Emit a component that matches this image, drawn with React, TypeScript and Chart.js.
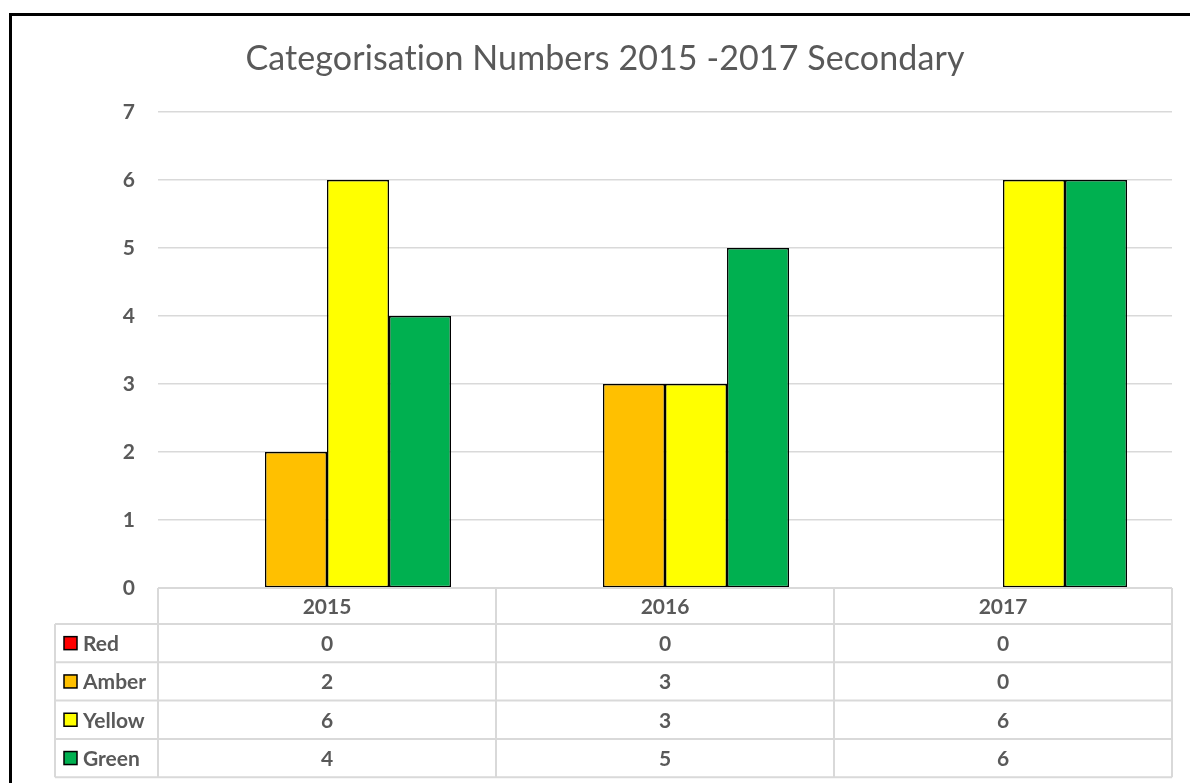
import React, { useEffect, useRef } from "react";
import { Chart, registerables } from "chart.js";

Chart.register(...registerables);

const TITLE = "Categorisation Numbers 2015 -2017 Secondary";
const categories = ["2015", "2016", "2017"];
const seriesNames = ["Red", "Amber", "Yellow", "Green"];
const redValues = [0, 0, 0];
const amberValues = [2, 3, 0];
const yellowValues = [6, 3, 6];
const greenValues = [4, 5, 6];
const seriesColors = ["#FF0000", "#FFC000", "#FFFF00", "#00B050"];
const yTicks = [0, 1, 2, 3, 4, 5, 6, 7];

const FONT = "Lato, 'Open Sans', sans-serif";
const TEXT = "#595959";
const GRID = "#d9d9d9";

const tablePlugin = {
  id: "dataTable",
  afterDraw(chart: any) {
    const ctx = chart.ctx;
    const x = chart.scales.x;
    const area = chart.chartArea;
    const n = categories.length;
    const catW = (x.right - x.left) / n;
    const headerTop = area.bottom;
    const headerH = 36;
    const rowH = 38.3;
    const legendLeft = 55;
    const tableRight = x.right;
    const rowsTop = headerTop + headerH;
    const nRows = seriesNames.length;
    const tableBottom = rowsTop + rowH * nRows;

    ctx.save();
    ctx.strokeStyle = GRID;
    ctx.lineWidth = 2;
    ctx.beginPath();
    ctx.moveTo(x.left, headerTop);
    ctx.lineTo(tableRight, headerTop);
    for (let r = 0; r <= nRows; r++) {
      const yy = rowsTop + r * rowH;
      ctx.moveTo(legendLeft, yy);
      ctx.lineTo(tableRight, yy);
    }
    ctx.moveTo(legendLeft, rowsTop);
    ctx.lineTo(legendLeft, tableBottom);
    for (let i = 0; i <= n; i++) {
      const xx = x.left + i * catW;
      ctx.moveTo(xx, headerTop);
      ctx.lineTo(xx, tableBottom);
    }
    ctx.stroke();

    ctx.fillStyle = TEXT;
    ctx.font = `bold 21px ${FONT}`;
    ctx.textAlign = "center";
    ctx.textBaseline = "middle";
    categories.forEach((c, i) => {
      const cx = x.getPixelForValue(i);
      ctx.fillText(c, cx, headerTop + headerH / 2 + 1);
    });

    chart.data.datasets.forEach((ds: any, r: number) => {
      const cy = rowsTop + r * rowH + rowH / 2 + 1;
      ds.data.forEach((v: number, i: number) => {
        ctx.fillStyle = TEXT;
        ctx.textAlign = "center";
        ctx.fillText(String(v), x.getPixelForValue(i), cy);
      });
      const ks = 13;
      ctx.fillStyle = ds.backgroundColor;
      ctx.fillRect(64, cy - ks / 2 - 1, ks, ks);
      ctx.strokeStyle = "#000";
      ctx.lineWidth = 1.5;
      ctx.strokeRect(64, cy - ks / 2 - 1, ks, ks);
      ctx.fillStyle = TEXT;
      ctx.textAlign = "left";
      ctx.fillText(ds.label, 83, cy);
    });

    ctx.fillStyle = TEXT;
    ctx.font = `normal 34px ${FONT}`;
    try {
      (ctx as any).letterSpacing = "0.1px";
    } catch (e) {}
    ctx.textAlign = "center";
    ctx.textBaseline = "middle";
    ctx.fillText(TITLE, 605, 59);
    ctx.restore();
  },
};

export default function App() {
  const ref = useRef<HTMLCanvasElement | null>(null);

  useEffect(() => {
    if (!ref.current) return;
    const values = [redValues, amberValues, yellowValues, greenValues];
    const chart = new Chart(ref.current, {
      type: "bar",
      data: {
        labels: categories,
        datasets: seriesNames.map((name, i) => ({
          label: name,
          data: values[i],
          backgroundColor: seriesColors[i],
          borderColor: "#000000",
          borderWidth: (c: any) => (c.raw === 0 ? 0 : 1.5),
          borderSkipped: false,
          barPercentage: 1,
          categoryPercentage: 0.734,
        })),
      },
      options: {
        responsive: false,
        animation: false,
        devicePixelRatio: 1,
        layout: { padding: { left: 0, right: 18, top: 112, bottom: 195 } },
        plugins: {
          legend: { display: false },
          title: { display: false },
          tooltip: { enabled: false },
        },
        scales: {
          x: {
            display: false,
            grid: { display: false },
          },
          y: {
            min: 0,
            max: 7,
            afterBuildTicks: (s: any) => {
              s.ticks = yTicks.map((v) => ({ value: v }));
            },
            afterFit: (s: any) => {
              s.width = 158;
            },
            border: { display: false },
            grid: { color: GRID, lineWidth: 1.5, drawTicks: false },
            ticks: {
              padding: 23,
              color: TEXT,
              font: { family: FONT, size: 21, weight: "bold" },
            },
          },
        },
      },
      plugins: [tablePlugin],
    } as any);
    return () => chart.destroy();
  }, []);

  return (
    <div
      style={{
        position: "fixed",
        left: 0,
        top: 0,
        width: 1190,
        height: 783,
        overflow: "hidden",
        background: "#fff",
      }}
    >
      <canvas ref={ref} width={1190} height={783} style={{ display: "block" }} />
      <div
        style={{
          position: "absolute",
          left: 9,
          top: 13,
          width: 1400,
          height: 1000,
          borderLeft: "3px solid #000",
          borderTop: "3px solid #000",
          pointerEvents: "none",
        }}
      />
    </div>
  );
}
